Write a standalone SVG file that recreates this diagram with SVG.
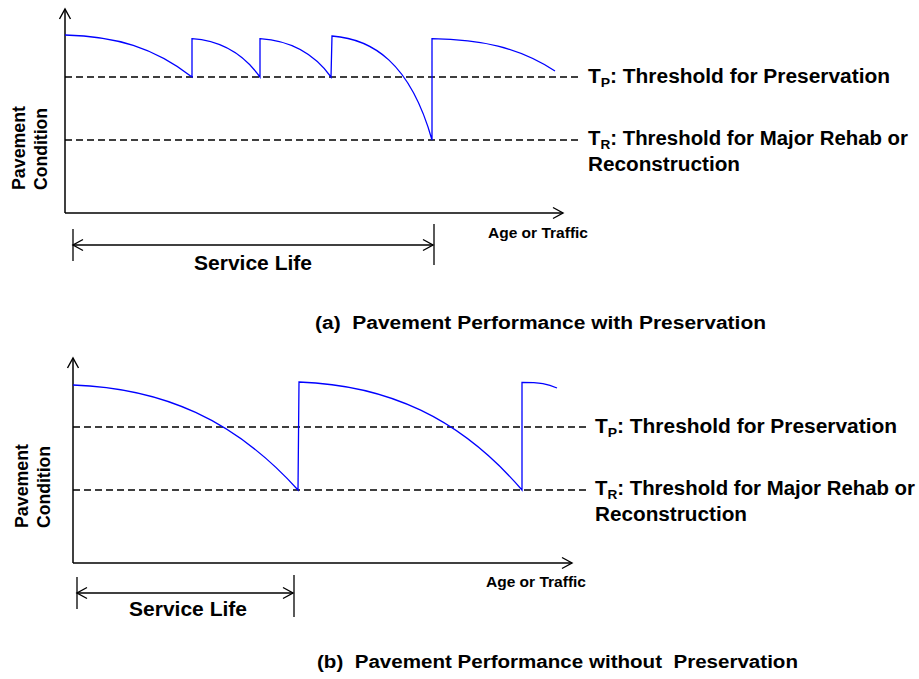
<svg xmlns="http://www.w3.org/2000/svg" width="919" height="679" viewBox="0 0 919 679">
<style>
  text { font-family: "Liberation Sans", Arial, sans-serif; font-weight: bold; fill: #000; white-space: pre; }
  .axis { stroke: #000; stroke-width: 1.5; fill: none; }
  .tick { stroke: #000; stroke-width: 1.3; fill: none; }
  .dash { stroke: #000; stroke-width: 1.3; fill: none; stroke-dasharray: 7 4; }
  .curve { stroke: #0000ff; stroke-width: 1.3; fill: none; }
  .lab { font-size: 19.5px; }
  .sub { font-size: 13px; }
  .yl { font-size: 18px; }
  .ax { font-size: 14.5px; }
  .sl { font-size: 20px; }
  .ttl { font-size: 18px; }
</style>
<defs>
  <marker id="arr" viewBox="0 0 12 12" refX="11" refY="6" markerWidth="12" markerHeight="12" markerUnits="userSpaceOnUse" orient="auto-start-reverse" overflow="visible">
    <path d="M1,0.5 L11,6 L1,11.5" stroke="#000" stroke-width="1.4" fill="none"/>
  </marker>
</defs>

<g id="chart-a">
  <g id="axes-a">
    <line class="axis" x1="65" y1="213" x2="65" y2="9" marker-end="url(#arr)"/>
    <line class="axis" x1="65" y1="213" x2="563" y2="213" marker-end="url(#arr)"/>
  </g>
  <g id="ylabel-a">
    <text class="yl" transform="translate(25,190) rotate(-90)" textLength="84" lengthAdjust="spacingAndGlyphs">Pavement</text>
    <text class="yl" transform="translate(47,190) rotate(-90)" textLength="82" lengthAdjust="spacingAndGlyphs">Condition</text>
  </g>
  <g id="thresholds-a">
    <line class="dash" x1="65" y1="77" x2="580" y2="77"/>
    <line class="dash" x1="65" y1="140" x2="580" y2="140"/>
    <text class="lab" x="588" y="83" textLength="302" lengthAdjust="spacingAndGlyphs">T<tspan class="sub" dy="4">P</tspan><tspan dy="-4">: Threshold for Preservation</tspan></text>
    <text class="lab" x="588" y="145" textLength="320" lengthAdjust="spacingAndGlyphs">T<tspan class="sub" dy="4">R</tspan><tspan dy="-4">: Threshold for Major Rehab or</tspan></text>
    <text class="lab" x="588" y="171" textLength="152" lengthAdjust="spacingAndGlyphs">Reconstruction</text>
  </g>
  <g id="curve-a">
    <path class="curve" d="M65,35 C115.8,36.3 153.9,47.6 192,77 L192,38.7 C219.2,40.5 242,52 260,77 L260,38.7 C288.4,40.5 313,52 331,77 L332,36 C372,39 410,62 432,140 L432,38.7 C481,39.5 518,47 555,71"/>
  </g>
  <g id="xlabel-a">
    <text class="ax" x="488" y="238" textLength="100" lengthAdjust="spacingAndGlyphs">Age or Traffic</text>
  </g>
  <g id="service-life-a">
    <line class="tick" x1="73" y1="229" x2="73" y2="261"/>
    <line class="tick" x1="434" y1="224" x2="434" y2="265"/>
    <line class="tick" x1="73" y1="245" x2="433" y2="245" marker-start="url(#arr)" marker-end="url(#arr)"/>
    <text class="sl" x="194" y="270" textLength="118" lengthAdjust="spacingAndGlyphs">Service Life</text>
  </g>
  <text id="title-a" class="ttl" x="315" y="329" textLength="451" lengthAdjust="spacingAndGlyphs">(a)  Pavement Performance with Preservation</text>
</g>

<g id="chart-b">
  <g id="axes-b">
    <line class="axis" x1="73" y1="563" x2="73" y2="358" marker-end="url(#arr)"/>
    <line class="axis" x1="73" y1="563" x2="572" y2="563" marker-end="url(#arr)"/>
  </g>
  <g id="ylabel-b">
    <text class="yl" transform="translate(28,528) rotate(-90)" textLength="84" lengthAdjust="spacingAndGlyphs">Pavement</text>
    <text class="yl" transform="translate(50,528) rotate(-90)" textLength="82" lengthAdjust="spacingAndGlyphs">Condition</text>
  </g>
  <g id="thresholds-b">
    <line class="dash" x1="73" y1="427" x2="588" y2="427"/>
    <line class="dash" x1="73" y1="490" x2="588" y2="490"/>
    <text class="lab" x="595" y="433" textLength="302" lengthAdjust="spacingAndGlyphs">T<tspan class="sub" dy="4">P</tspan><tspan dy="-4">: Threshold for Preservation</tspan></text>
    <text class="lab" x="595" y="495" textLength="320" lengthAdjust="spacingAndGlyphs">T<tspan class="sub" dy="4">R</tspan><tspan dy="-4">: Threshold for Major Rehab or</tspan></text>
    <text class="lab" x="595" y="521" textLength="152" lengthAdjust="spacingAndGlyphs">Reconstruction</text>
  </g>
  <g id="curve-b">
    <path class="curve" d="M73,385 C163,388.2 235,420 298,490 L299,382 C388.2,385.2 460,418 522,490 L522,382.3 C540,382.3 548,384 557,388"/>
  </g>
  <g id="xlabel-b">
    <text class="ax" x="486" y="587" textLength="100" lengthAdjust="spacingAndGlyphs">Age or Traffic</text>
  </g>
  <g id="service-life-b">
    <line class="tick" x1="77" y1="577" x2="77" y2="609"/>
    <line class="tick" x1="294" y1="575" x2="294" y2="617"/>
    <line class="tick" x1="77" y1="593" x2="293" y2="593" marker-start="url(#arr)" marker-end="url(#arr)"/>
    <text class="sl" x="129" y="616" textLength="118" lengthAdjust="spacingAndGlyphs">Service Life</text>
  </g>
  <text id="title-b" class="ttl" x="317" y="668" textLength="481" lengthAdjust="spacingAndGlyphs">(b)  Pavement Performance without  Preservation</text>
</g>
</svg>
